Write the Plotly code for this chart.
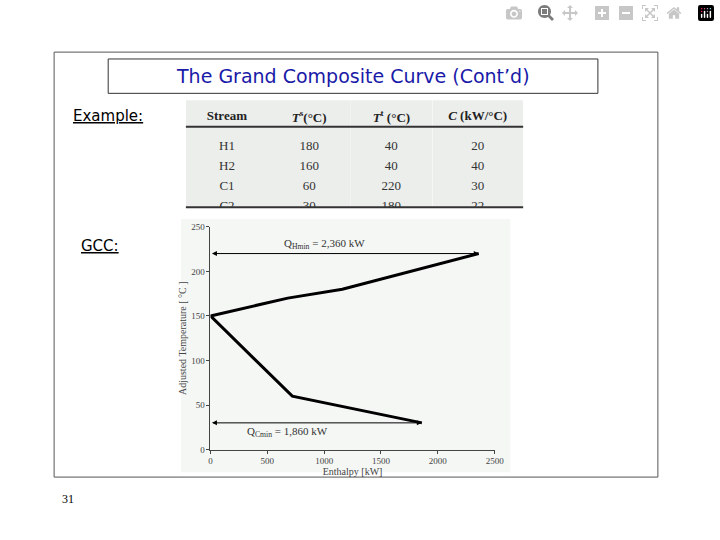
import plotly.graph_objects as go

streams = ["H1", "H2", "C1", "C2"]
t_supply = [180, 160, 60, 30]
t_target = [40, 40, 220, 180]
cp = [20, 40, 30, 22]

gcc_h = [2360, 1160, 680, 0, 720, 1860]
gcc_t = [220, 180, 170, 150, 60, 30]
qh, qc = 2360, 1860
th, tc = 220, 30

W, H = 720, 540
def px(x): return x / W
def py(y): return 1 - y / H

fig = go.Figure()
fig.add_trace(go.Table(
    domain=dict(x=[px(187), px(530)], y=[py(207), py(97)]),
    columnwidth=[1, 1, 1, 1.1],
    header=dict(values=["<b>Stream</b>", "<b><i>T</i><sup>s</sup>(°C)</b>", "<b><i>T</i><sup>t</sup> (°C)</b>", "<b><i>C</i> (kW/°C)</b>"],
                fill_color="#eceeec", line=dict(color="#eceeec", width=0),
                font=dict(family="Liberation Serif", size=13, color="#222"), height=26, align="center"),
    cells=dict(values=[streams, t_supply, t_target, cp],
               fill_color="#eceeec", line=dict(color="#eceeec", width=0),
               font=dict(family="Liberation Serif", size=13, color="#333"), height=20, align="center"),
))
fig.add_trace(go.Scatter(x=gcc_h, y=gcc_t, mode="lines", line=dict(color="black", width=3),
                         showlegend=False, hoverinfo="skip"))

shapes = [
    dict(type="rect", xref="paper", yref="paper", x0=px(53), x1=px(667), y0=py(481), y1=py(48),
         line=dict(color="#555", width=1)),
    dict(type="rect", xref="paper", yref="paper", x0=px(108), x1=px(606), y0=py(90), y1=py(55),
         line=dict(color="#333", width=1)),
    dict(type="rect", xref="paper", yref="paper", x0=px(182), x1=px(517), y0=py(476), y1=py(218),
         line=dict(width=0), fillcolor="#f4f7f4", layer="below"),
    dict(type="line", xref="paper", yref="paper", x0=px(187), x1=px(530), y0=py(124), y1=py(124),
         line=dict(color="#333", width=2)),
    dict(type="line", xref="paper", yref="paper", x0=px(187), x1=px(530), y0=py(206), y1=py(206),
         line=dict(color="#333", width=2)),
]
def txt(x, y, t, fam, size, color="black", xa="center"):
    return dict(xref="paper", yref="paper", x=px(x), y=py(y), text=t, xanchor=xa, yanchor="middle",
                showarrow=False, font=dict(family=fam, size=size, color=color))
ann = [
    txt(357, 72, "The Grand Composite Curve (Cont’d)", "DejaVu Sans", 19, "#1a1aa8"),
    txt(70, 113, "<u>Example:</u>", "DejaVu Sans", 15, xa="left"),
    txt(78, 246, "<u>GCC:</u>", "DejaVu Sans", 15, xa="left"),
    txt(67, 503, "31", "Liberation Serif", 12),
    dict(x=qh, y=th, ax=0, ay=th, xref="x", yref="y", axref="x", ayref="y", text="",
         showarrow=True, arrowside="end+start", arrowhead=2, arrowsize=1, arrowwidth=1, arrowcolor="black"),
    dict(x=qc, y=tc, ax=0, ay=tc, xref="x", yref="y", axref="x", ayref="y", text="",
         showarrow=True, arrowside="end+start", arrowhead=2, arrowsize=1, arrowwidth=1, arrowcolor="black"),
    dict(x=1000, y=th + 11, text="Q<sub>Hmin</sub> = 2,360 kW", showarrow=False,
         font=dict(family="Liberation Serif", size=11, color="#333")),
    dict(x=680, y=tc - 10, text="Q<sub>Cmin</sub> = 1,860 kW", showarrow=False,
         font=dict(family="Liberation Serif", size=11, color="#333")),
]
fig.update_layout(
    width=W, height=H, margin=dict(l=0, r=0, t=0, b=0), paper_bgcolor="white",
    plot_bgcolor="#f4f7f4", shapes=shapes, annotations=ann, showlegend=False,
    xaxis=dict(domain=[px(212), px(501)], range=[0, 2500], tickvals=[0, 500, 1000, 1500, 2000, 2500],
               showgrid=False, zeroline=False, showline=True, linecolor="#444", ticks="outside", ticklen=3,
               tickfont=dict(family="Liberation Serif", size=9, color="#444"),
               title=dict(text="Enthalpy [kW]", font=dict(family="Liberation Serif", size=10, color="#444"), standoff=0)),
    yaxis=dict(domain=[py(453), py(226)], range=[0, 250], tickvals=[0, 50, 100, 150, 200, 250],
               showgrid=False, zeroline=False, showline=True, linecolor="#444", ticks="outside", ticklen=3,
               tickfont=dict(family="Liberation Serif", size=9, color="#444"),
               title=dict(text="Adjusted Temperature [ °C ]", font=dict(family="Liberation Serif", size=10, color="#444"), standoff=2)),
)
fig.write_html("out.html", config=dict(responsive=False),
               post_script="document.body.style.margin='0';document.body.style.overflow='hidden';")
